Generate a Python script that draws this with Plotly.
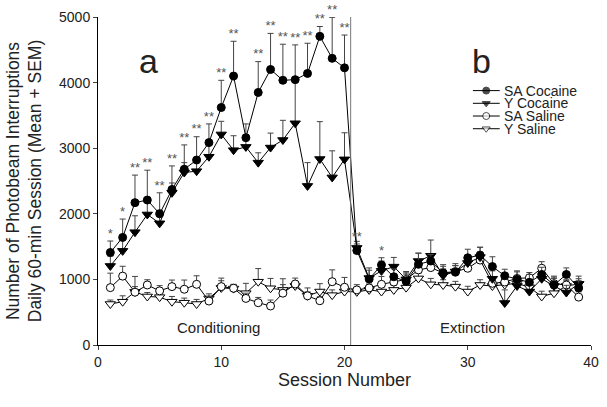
import plotly.graph_objects as go

sessions = list(range(1, 40))

sa_cocaine = [1410, 1640, 2170, 2210, 2000, 2370, 2680, 2820, 3085, 3620,
              4100, 3160, 3850, 4200, 4035, 4045, 4140, 4705, 4370, 4225,
              1440, 1005, 1220, 1040, 970, 1230, 1280, 1095, 1110, 1330,
              1370, 1195, 1055, 1000, 955, 1075, 915, 1075, 870]
sa_cocaine_sem = [175, 280, 420, 455, 320, 360, 370, 355, 285, 415,
                  530, 210, 470, 550, 550, 530, 460, 150, 625, 500,
                  100, 170, 110, 120, 110, 170, 100, 130, 100, 130,
                  120, 150, 100, 130, 120, 110, 100, 100, 110]

y_cocaine = [1205, 1435, 1720, 1990, 1855, 2320, 2630, 2650, 2870, 3210,
             2970, 3020, 2780, 3010, 3125, 3380, 2425, 2835, 2555, 2830,
             1480, 1020, 1130, 1195, 1000, 1280, 1360, 1060, 1120, 1250,
             1340, 1010, 640, 900, 815, 1010, 900, 800, 930]
y_cocaine_sem = [150, 200, 250, 200, 200, 150, 150, 200, 200, 200,
                 220, 150, 150, 220, 300, 650, 355, 570, 405, 405,
                 100, 120, 150, 140, 120, 120, 240, 100, 120, 110,
                 150, 120, 200, 120, 120, 110, 150, 110, 120]

sa_saline = [875, 1050, 805, 915, 825, 890, 850, 925, 670, 890,
             865, 710, 645, 595, 790, 930, 750, 675, 965, 880,
             840, 870, 925, 960, 1000, 1145, 1180, 1100, 1120, 1170,
             1295, 940, 960, 1015, 1025, 1170, 935, 915, 730]
sa_saline_sem = [220, 150, 240, 80, 80, 100, 140, 130, 60, 130,
                 60, 80, 80, 90, 130, 90, 60, 60, 180, 150,
                 80, 60, 120, 90, 100, 80, 100, 100, 90, 120,
                 120, 100, 100, 100, 80, 100, 100, 80, 80]

y_saline = [625, 660, 810, 740, 730, 660, 645, 625, 710, 870,
            860, 790, 965, 865, 840, 900, 750, 815, 760, 815,
            810, 840, 815, 840, 875, 1015, 925, 915, 890, 815,
            915, 900, 920, 940, 880, 740, 790, 900, 930]
y_saline_sem = [60, 90, 80, 60, 60, 80, 70, 70, 70, 110,
                60, 150, 200, 150, 170, 60, 120, 120, 80, 80,
                70, 70, 80, 70, 80, 80, 90, 80, 80, 80,
                80, 80, 80, 80, 80, 80, 80, 80, 80]

# significance markers above SA Cocaine bars
sig_sessions = [1, 2, 3, 4, 5, 6, 7, 8, 9, 10, 11, 13, 14, 15, 16, 17, 18, 19, 20, 21, 23]
sig_labels = ["*", "*", "**", "**", "**", "**", "**", "**", "**", "**", "**",
              "**", "**", "**", "**", "**", "**", "**", "**", "**", "*"]

legend_names = ["SA Cocaine", "Y Cocaine", "SA Saline", "Y Saline"]
legend_symbols = ["circle", "triangle-down", "circle", "triangle-down"]
legend_fills = ["black", "black", "white", "white"]

FONT = "Arial, Liberation Sans, sans-serif"
fig = go.Figure()

def add_series(name, y, sem, symbol, fill):
    fig.add_trace(go.Scatter(
        x=sessions, y=y, name=name, mode="lines+markers", showlegend=False,
        line=dict(color="black", width=1),
        marker=dict(symbol=symbol, size=8 if symbol == "circle" else 9,
                    color=fill, line=dict(color="black", width=1)),
        error_y=dict(type="data", array=sem, arrayminus=[0] * len(sem),
                     symmetric=False, color="#444", thickness=1, width=3),
    ))

add_series("Y Saline", y_saline, y_saline_sem, "triangle-down", "white")
add_series("SA Saline", sa_saline, sa_saline_sem, "circle", "white")
add_series("Y Cocaine", y_cocaine, y_cocaine_sem, "triangle-down", "black")
add_series("SA Cocaine", sa_cocaine, sa_cocaine_sem, "circle", "black")

sig_y = [sa_cocaine[s - 1] + sa_cocaine_sem[s - 1] for s in sig_sessions]
fig.add_trace(go.Scatter(
    x=sig_sessions, y=sig_y, mode="text", text=sig_labels, cliponaxis=False,
    textposition="top center", textfont=dict(size=13, color="#555", family=FONT),
    showlegend=False, hoverinfo="skip"))

# compact legend drawn on a hidden overlay axis (units: sample-line lengths, rows)
for i, (nm, sym, fill) in enumerate(zip(legend_names, legend_symbols, legend_fills)):
    fig.add_trace(go.Scatter(
        x=[0, 0.5, 1], y=[i, i, i], xaxis="x2", yaxis="y2", mode="lines+markers",
        line=dict(color="black", width=1),
        marker=dict(symbol=sym, size=[0, 7, 0], color=fill,
                    line=dict(color="black", width=1)),
        showlegend=False, hoverinfo="skip"))
    fig.add_annotation(x=1.1, y=i, xref="x2", yref="y2", text=nm, showarrow=False,
                       xanchor="left", font=dict(size=14, color="#222", family=FONT))

fig.add_shape(type="line", x0=20.5, x1=20.5, y0=0, y1=1, xref="x", yref="paper",
              line=dict(color="#777", width=1))

fig.add_annotation(x=4.1, y=0.93, xref="x", yref="paper", text="a", showarrow=False,
                   font=dict(size=34, color="#222", family=FONT))
fig.add_annotation(x=31.1, y=0.93, xref="x", yref="paper", text="b", showarrow=False,
                   font=dict(size=34, color="#222", family=FONT))
fig.add_annotation(x=9.8, y=260, text="Conditioning", showarrow=False,
                   font=dict(size=15, color="#222", family=FONT))
fig.add_annotation(x=30.4, y=260, text="Extinction", showarrow=False,
                   font=dict(size=15, color="#222", family=FONT))

fig.update_layout(
    width=607, height=407,
    margin=dict(l=98, r=16, t=17, b=62),
    plot_bgcolor="white", paper_bgcolor="white",
    font=dict(family=FONT, color="#222", size=14),
    showlegend=False,
    xaxis=dict(range=[0, 40], tickvals=[0, 10, 20, 30, 40], ticks="outside",
               ticklen=4, showline=True, linecolor="black", linewidth=1,
               showgrid=False, zeroline=False, automargin=False,
               title=dict(text="Session Number", font=dict(size=18), standoff=3)),
    yaxis=dict(range=[0, 5000], tickvals=[0, 1000, 2000, 3000, 4000, 5000],
               ticks="outside", ticklen=4, showline=True, linecolor="black",
               linewidth=1, showgrid=False, zeroline=False, automargin=False,
               title=dict(text="Number of Photobeam Interruptions<br>Daily 60-min Session (Mean + SEM)",
                          font=dict(size=17.5), standoff=12)),
    xaxis2=dict(domain=[0.760, 0.985], range=[0, 4.1], anchor="y2", visible=False,
                fixedrange=True),
    yaxis2=dict(domain=[0.64, 0.795], range=[3.5, -0.5], anchor="x2", visible=False,
                fixedrange=True),
)

fig.write_html("out.html", config={"displayModeBar": False},
               post_script="document.body.style.margin='0';document.body.style.overflow='hidden';")
